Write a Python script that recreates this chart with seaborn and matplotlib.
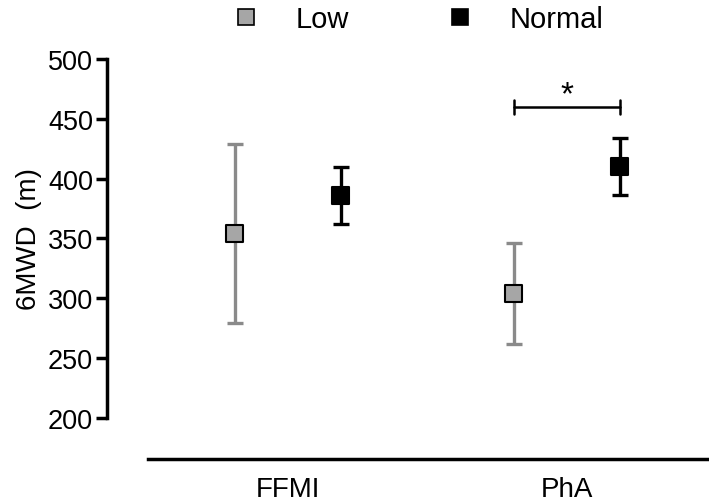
import matplotlib
matplotlib.use('Agg')
import matplotlib.pyplot as plt
import seaborn as sns
import pandas as pd
from matplotlib.lines import Line2D

# values (mean and error)
categories = ['FFMI', 'PhA']
groups = ['Low', 'Normal']
low_mean = [354, 304]
low_err = [75, 42]
normal_mean = [386, 410]
normal_err = [24, 24]
sig_y = 460

sns.set_style('white')
plt.rcParams['font.family'] = ['Liberation Sans', 'DejaVu Sans']
plt.rcParams['text.color'] = 'black'
plt.rcParams['axes.labelcolor'] = 'black'
plt.rcParams['xtick.color'] = 'black'
plt.rcParams['ytick.color'] = 'black'

colors = {'Low': '#a6a6a6', 'Normal': '#000000'}
bar_colors = {'Low': '#8a8a8a', 'Normal': '#000000'}
offset = {'Low': -0.19, 'Normal': 0.19}

df = pd.DataFrame({
    'category': categories * 2,
    'group': ['Low'] * 2 + ['Normal'] * 2,
    'mean': low_mean + normal_mean,
    'err': low_err + normal_err,
})
df['x'] = df['category'].map({c: i for i, c in enumerate(categories)}) + df['group'].map(offset)

fig = plt.figure(figsize=(7.09, 5.02), dpi=100)
ax = fig.add_axes([148 / 709, 83 / 502, 1 - 148 / 709, 359 / 502])

for g in groups:
    sub = df[df['group'] == g]
    ax.errorbar(sub['x'], sub['mean'], yerr=sub['err'], fmt='none',
                ecolor=bar_colors[g], elinewidth=2.4, capsize=6, capthick=2.4, zorder=2)

sns.scatterplot(data=df, x='x', y='mean', hue='group', palette=colors, marker='s',
                s=150, edgecolor='black', linewidth=1.5, legend=False, ax=ax, zorder=3)

# significance bracket over PhA
x0 = 1 + offset['Low']
x1 = 1 + offset['Normal']
ax.plot([x0, x1], [sig_y, sig_y], color='black', lw=1.8)
ax.plot([x0, x0], [sig_y - 6, sig_y + 6], color='black', lw=1.8)
ax.plot([x1, x1], [sig_y - 6, sig_y + 6], color='black', lw=1.8)
ax.text((x0 + x1) / 2, sig_y - 3, '*', ha='center', va='bottom', fontsize=24)

ax.set_xlim(-0.5, 1.51)
ax.set_ylim(200, 500)
ax.set_yticks(range(200, 501, 50))
ax.set_xticks(range(len(categories)))
ax.set_xticklabels(categories)
ax.set_xlabel('')
ax.set_ylabel('6MWD  (m)', fontsize=20, labelpad=4)

for s in ['top', 'right']:
    ax.spines[s].set_visible(False)
ax.spines['left'].set_position(('outward', 29.5))
ax.spines['bottom'].set_position(('outward', 29.5))
ax.spines['left'].set_linewidth(2.5)
ax.spines['bottom'].set_linewidth(2.5)
ax.spines['left'].set_color('black')
ax.spines['bottom'].set_color('black')
ax.tick_params(axis='y', length=8, width=2.5, labelsize=19.5, pad=2, left=True)
ax.tick_params(axis='x', length=0, labelsize=20, pad=12)

handles = [Line2D([], [], ls='none', marker='s', markersize=11, markerfacecolor=colors[g],
                  markeredgecolor='black', markeredgewidth=1.2) for g in groups]
fig.legend(handles, groups, loc='upper center', bbox_to_anchor=(0.578, 1.04), ncol=2,
           frameon=False, fontsize=21, handletextpad=0.7, columnspacing=2.8)

fig.savefig('out.png', dpi=100)
